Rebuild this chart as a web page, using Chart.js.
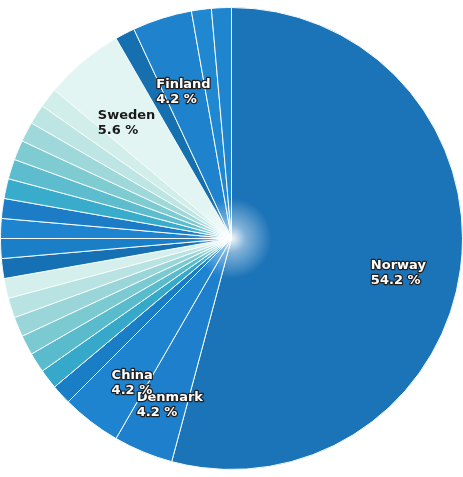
<!DOCTYPE html>
<html>
<head>
<meta charset="utf-8">
<script src="https://cdn.jsdelivr.net/npm/chart.js@4.4.0/dist/chart.umd.min.js"></script>
<style>
  html, body { margin: 0; padding: 0; background: #fff; }
  #wrap { width: 463px; height: 477px; }
</style>
</head>
<body>
<div id="wrap"><canvas id="pieChart"></canvas></div>
<script>
// slices, clockwise from 12 o'clock (unnamed slices have no label in the picture)
const countries = ['Norway', 'Denmark', 'China', '', '', '', '', '', '', '', '', '', '', '', '', '', '', '', '', '', 'Sweden', '', 'Finland', '', ''];
const counts = [39, 3, 3, 1, 1, 1, 1, 1, 1, 1, 1, 1, 1, 1, 1, 1, 1, 1, 1, 1, 4, 1, 3, 1, 1];
const sliceColors = [
    '#1c74b8', '#1e80cc', '#1f84d0',
    '#1a7ec6', '#36a8ca', '#5abbcc', '#7ccad1', '#9ad6d9', '#b8e3e2', '#d4efec',
    '#1670b4', '#1b7fc8', '#1f84cf', '#1c7dc6',
    '#3aaccb', '#5dbccd', '#7fcbd2', '#9ed8da', '#bce5e3', '#d2eeeb',
    '#e2f5f2', '#1670b0', '#1e82cd', '#2088d1', '#1f85cf'
];

const total = counts.reduce((a, b) => a + b, 0);

const labelPlugin = {
    id: 'sliceLabels',
    afterDatasetsDraw(chart) {
        const c = chart.ctx;
        const meta = chart.getDatasetMeta(0);

        // white glow at the centre
        const a0 = meta.data[0];
        const g = c.createRadialGradient(a0.x, a0.y, 0, a0.x, a0.y, 40);
        g.addColorStop(0, 'rgba(255,255,255,0.95)');
        g.addColorStop(0.35, 'rgba(255,255,255,0.45)');
        g.addColorStop(1, 'rgba(255,255,255,0)');
        c.save();
        c.fillStyle = g;
        c.beginPath();
        c.arc(a0.x, a0.y, 40, 0, Math.PI * 2);
        c.fill();
        c.restore();

        c.save();
        c.font = 'bold 13px "DejaVu Sans", sans-serif';
        c.textBaseline = 'middle';
        c.textAlign = 'left';
        c.lineJoin = 'round';
        meta.data.forEach(function (arc, i) {
            if (!countries[i]) return;
            const mid = (arc.startAngle + arc.endAngle) / 2;
            const r = arc.outerRadius * 0.72;
            const x = arc.x + Math.cos(mid) * r;
            const y = arc.y + Math.sin(mid) * r;
            const lines = [countries[i], (counts[i] / total * 100).toFixed(1) + ' %'];
            const w = Math.max(...lines.map(l => c.measureText(l).width));
            lines.forEach(function (line, j) {
                const lx = x - w / 2 + 2;
                const ly = y + 5 + j * 15;
                if (countries[i] === 'Sweden') {
                    c.fillStyle = '#1a1a1a';
                    c.fillText(line, lx, ly);
                } else {
                    c.strokeStyle = '#222222';
                    c.lineWidth = 2.5;
                    c.strokeText(line, lx, ly);
                    c.fillStyle = '#ffffff';
                    c.fillText(line, lx, ly);
                }
            });
        });
        c.restore();
    }
};

new Chart(document.getElementById('pieChart'), {
    type: 'pie',
    data: {
        labels: countries,
        datasets: [{
            data: counts,
            backgroundColor: sliceColors,
            borderColor: '#f4fbfb',
            borderWidth: 1
        }]
    },
    options: {
        responsive: true,
        maintainAspectRatio: false,
        animation: false,
        plugins: {
            legend: { display: false },
            tooltip: { enabled: false }
        }
    },
    plugins: [labelPlugin]
});
</script>
</body>
</html>
